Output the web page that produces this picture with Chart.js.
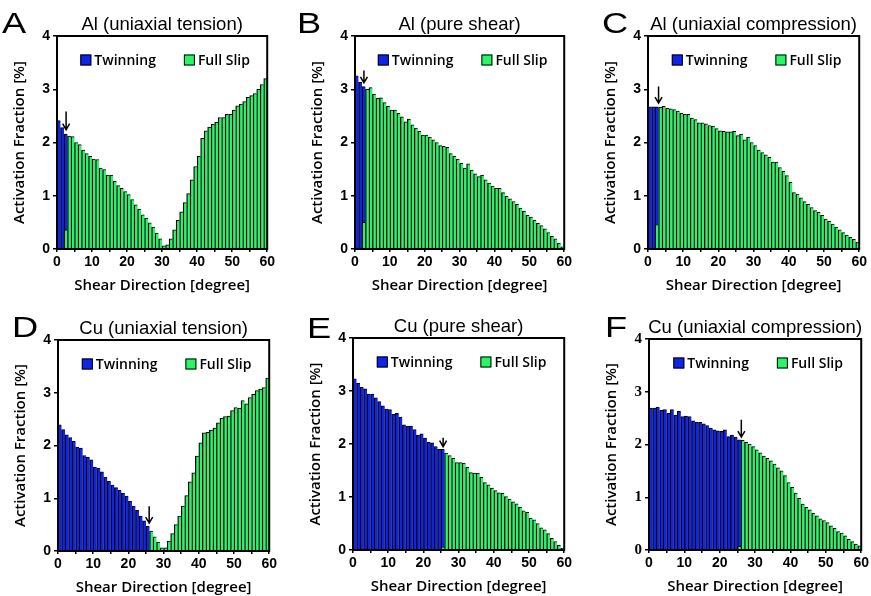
<!DOCTYPE html>
<html lang="en">
<head>
<meta charset="UTF-8" />
<title>Activation Fraction vs Shear Direction</title>
<style>
  body { margin: 0; background: #fff; }
  #wrap { position: relative; width: 871px; height: 596px; overflow: hidden; }
  canvas { position: absolute; }
</style>
</head>
<body>
<div id="wrap"></div>
<script src="https://cdn.jsdelivr.net/npm/chart.js"></script>
<script>
// 1-degree bins, 0..59
const shearBins = [0, 1, 2, 3, 4, 5, 6, 7, 8, 9, 10, 11, 12, 13, 14, 15, 16, 17, 18, 19,
  20, 21, 22, 23, 24, 25, 26, 27, 28, 29, 30, 31, 32, 33, 34, 35, 36, 37, 38, 39,
  40, 41, 42, 43, 44, 45, 46, 47, 48, 49, 50, 51, 52, 53, 54, 55, 56, 57, 58, 59];
const xTickMarks = [0, 5, 10, 15, 20, 25, 30, 35, 40, 45, 50, 55, 60];
const xTickLabels = [0, 10, 20, 30, 40, 50, 60];
const yTickLabels = [0, 1, 2, 3, 4];
const seriesNames = ['Twinning', 'Full Slip'];

// Al, uniaxial tension
const alTensionTwin = [2.41, 2.28, 2.16];
const alTensionSlipStart = 2;
const alTensionSlip = [0.36, 2.12, 2.11, 2.00, 1.96, 1.86, 1.79, 1.74, 1.69, 1.68,
  1.52, 1.49, 1.39, 1.39, 1.27, 1.19, 1.14, 1.08, 1.02, 0.93,
  0.83, 0.75, 0.64, 0.58, 0.49, 0.41, 0.30, 0.19, 0.06, 0.08,
  0.19, 0.36, 0.54, 0.70, 0.87, 1.04, 1.30, 1.55, 1.74, 2.08,
  2.22, 2.29, 2.34, 2.38, 2.47, 2.47, 2.53, 2.53, 2.61, 2.69,
  2.72, 2.77, 2.85, 2.88, 2.92, 3.00, 3.09, 3.20];
const alTensionArrow = [2.6, 2.58, 2.24];

// Al, pure shear
const alShearTwin = [3.25, 3.13, 3.05];
const alShearSlipStart = 2;
const alShearSlip = [0.50, 3.00, 3.03, 2.91, 2.83, 2.84, 2.75, 2.68, 2.61, 2.61,
  2.55, 2.48, 2.39, 2.44, 2.33, 2.27, 2.21, 2.14, 2.14, 2.10,
  2.05, 2.00, 1.94, 1.93, 1.91, 1.79, 1.74, 1.69, 1.61, 1.52,
  1.60, 1.48, 1.41, 1.36, 1.39, 1.30, 1.24, 1.18, 1.14, 1.14,
  1.06, 0.99, 0.94, 0.89, 0.84, 0.77, 0.71, 0.63, 0.60, 0.54,
  0.48, 0.44, 0.38, 0.31, 0.24, 0.19, 0.11, 0.04];
const alShearArrow = [2.56, 3.35, 3.12];

// Al, uniaxial compression
const alCompTwin = [2.67, 2.67, 2.67];
const alCompSlipStart = 2;
const alCompSlip = [0.46, 2.66, 2.68, 2.64, 2.63, 2.62, 2.59, 2.55, 2.53, 2.53,
  2.46, 2.43, 2.37, 2.37, 2.35, 2.32, 2.31, 2.26, 2.22, 2.21,
  2.20, 2.20, 2.21, 2.13, 2.16, 2.05, 2.10, 2.00, 1.94, 1.86,
  1.81, 1.77, 1.72, 1.63, 1.63, 1.53, 1.46, 1.38, 1.25, 1.06,
  1.03, 0.96, 0.89, 0.84, 0.78, 0.72, 0.69, 0.63, 0.56, 0.52,
  0.47, 0.41, 0.36, 0.31, 0.26, 0.22, 0.18, 0.13];
const alCompArrow = [3.0, 3.05, 2.74];

// Cu, uniaxial tension
const cuTensionTwin = [2.39, 2.30, 2.20, 2.15, 2.08, 1.97, 1.95, 1.81, 1.78, 1.73,
  1.59, 1.57, 1.50, 1.40, 1.32, 1.25, 1.20, 1.15, 1.10, 1.04,
  0.94, 0.85, 0.77, 0.66, 0.57, 0.47];
const cuTensionSlipStart = 26;
const cuTensionSlip = [0.38, 0.27, 0.17, 0.06, 0.06, 0.19, 0.33, 0.50, 0.66, 0.85,
  1.05, 1.31, 1.48, 1.80, 2.05, 2.24, 2.25, 2.29, 2.33, 2.43,
  2.52, 2.55, 2.56, 2.66, 2.72, 2.71, 2.85, 2.79, 2.91, 2.97,
  3.04, 3.07, 3.10, 3.28];
const cuTensionArrow = [25.9, 0.85, 0.53];

// Cu, pure shear
const cuShearTwin = [3.23, 3.15, 3.07, 3.04, 2.94, 2.94, 2.87, 2.80, 2.72, 2.66,
  2.65, 2.56, 2.58, 2.51, 2.36, 2.34, 2.34, 2.27, 2.17, 2.19,
  2.11, 2.03, 2.02, 1.95, 1.90, 1.90];
const cuShearSlipStart = 25;
const cuShearSlip = [0.06, 1.83, 1.78, 1.73, 1.65, 1.65, 1.64, 1.56, 1.46, 1.45,
  1.45, 1.37, 1.27, 1.23, 1.17, 1.12, 1.08, 1.07, 1.01, 0.96,
  0.91, 0.87, 0.81, 0.74, 0.71, 0.60, 0.57, 0.50, 0.42, 0.38,
  0.31, 0.22, 0.16, 0.09, 0.03];
const cuShearArrow = [25.6, 2.12, 1.95];

// Cu, uniaxial compression
const cuCompTwin = [2.69, 2.69, 2.71, 2.65, 2.66, 2.59, 2.66, 2.56, 2.63, 2.53,
  2.54, 2.53, 2.45, 2.42, 2.42, 2.39, 2.36, 2.31, 2.28, 2.26,
  2.25, 2.28, 2.15, 2.18, 2.14, 2.09];
const cuCompSlipStart = 25;
const cuCompSlip = [0.07, 2.08, 2.04, 2.01, 1.96, 1.90, 1.84, 1.78, 1.74, 1.69,
  1.63, 1.56, 1.50, 1.41, 1.28, 1.19, 1.08, 0.98, 0.87, 0.81,
  0.76, 0.70, 0.65, 0.59, 0.56, 0.52, 0.46, 0.41, 0.35, 0.32,
  0.27, 0.20, 0.16, 0.11, 0.08];
const cuCompArrow = [26.1, 2.47, 2.14];

const TWIN_COLOR = '#1024e6';
const SLIP_COLOR = '#2ef268';

// plot box of every panel on the page (left, top, width, height)
const panels = [
  { letter: 'A', title: 'Al (uniaxial tension)', twin: alTensionTwin, slip: alTensionSlip, slipStart: alTensionSlipStart, arrow: alTensionArrow, box: [57, 36, 212, 213], letterDx: -55, letterDy: -3 },
  { letter: 'B', title: 'Al (pure shear)', twin: alShearTwin, slip: alShearSlip, slipStart: alShearSlipStart, arrow: alShearArrow, box: [355, 36, 211, 213], letterDx: -58, letterDy: -3 },
  { letter: 'C', title: 'Al (uniaxial compression)', twin: alCompTwin, slip: alCompSlip, slipStart: alCompSlipStart, arrow: alCompArrow, box: [648, 36, 213, 213], letterDx: -46, letterDy: -3 },
  { letter: 'D', title: 'Cu (uniaxial tension)', twin: cuTensionTwin, slip: cuTensionSlip, slipStart: cuTensionSlipStart, arrow: cuTensionArrow, box: [58, 340, 213, 211], letterDx: -46, letterDy: -3 },
  { letter: 'E', title: 'Cu (pure shear)', twin: cuShearTwin, slip: cuShearSlip, slipStart: cuShearSlipStart, arrow: cuShearArrow, box: [353, 338, 213, 212], letterDx: -46, letterDy: 0 },
  { letter: 'F', title: 'Cu (uniaxial compression)', twin: cuCompTwin, slip: cuCompSlip, slipStart: cuCompSlipStart, arrow: cuCompArrow, box: [649, 339, 214, 211], letterDx: -44, letterDy: -2, serifY: true },
];

const AXIS_W = 57, TOP_PAD = 36, RIGHT_PAD = 8, XAXIS_H = 50;

// frame, arrow, in-plot legend, title and panel letter
const decor = {
  id: 'decor',
  afterDatasetsDraw(chart, args, o) {
    const { ctx, chartArea: a, scales } = chart;
    ctx.save();
    ctx.strokeStyle = '#000';
    ctx.lineWidth = 2;
    ctx.strokeRect(a.left, a.top, a.right - a.left, a.bottom - a.top);

    const ax = scales.xt.getPixelForValue(o.arrow[0]);
    const ay0 = scales.y.getPixelForValue(o.arrow[1]);
    const ay1 = scales.y.getPixelForValue(o.arrow[2]);
    ctx.lineWidth = 1.5;
    ctx.beginPath();
    ctx.moveTo(ax, ay0);
    ctx.lineTo(ax, ay1);
    ctx.moveTo(ax - 3.5, ay1 - 6);
    ctx.lineTo(ax, ay1);
    ctx.lineTo(ax + 3.5, ay1 - 6);
    ctx.stroke();

    // legend
    ctx.font = '600 14px "Open Sans"';
    ctx.textBaseline = 'middle';
    ctx.textAlign = 'left';
    const box = 11, gap = 3, spacing = 28;
    const items = chart.data.datasets.map(ds => ({ text: ds.label, color: ds.backgroundColor, w: ctx.measureText(ds.label).width }));
    let total = 0;
    items.forEach((it, i) => { total += box + gap + it.w + (i ? spacing : 0); });
    let x = a.left + (a.right - a.left - total) / 2 + 3;
    const ly = a.top + 24;
    items.forEach(it => {
      ctx.fillStyle = it.color;
      ctx.fillRect(x, ly - box / 2, box, box);
      ctx.lineWidth = 1;
      ctx.strokeStyle = '#000';
      ctx.strokeRect(x + 0.5, ly - box / 2 + 0.5, box - 1, box - 1);
      ctx.fillStyle = '#000';
      ctx.fillText(it.text, x + box + gap, ly + 1);
      x += box + gap + it.w + spacing;
    });
    ctx.restore();
  },
  afterDraw(chart, args, o) {
    const { ctx, chartArea: a } = chart;
    ctx.save();
    ctx.fillStyle = '#000';
    ctx.textBaseline = 'middle';
    ctx.textAlign = 'center';
    ctx.font = '18.5px "Liberation Sans"';
    ctx.fillText(o.title, (a.left + a.right) / 2, a.top - 11);

    ctx.textBaseline = 'alphabetic';
    ctx.textAlign = 'left';
    ctx.font = '29px "Liberation Sans"';
    ctx.translate(a.left + o.letterDx, a.top + o.letterDy);
    ctx.scale(1.25, 1);
    ctx.fillText(o.letter, 0, 0);
    ctx.restore();
  }
};

const wrap = document.getElementById('wrap');

panels.forEach(p => {
  const [L, T, W, H] = p.box;
  const canvas = document.createElement('canvas');
  canvas.width = W + AXIS_W + RIGHT_PAD;
  canvas.height = H + TOP_PAD + XAXIS_H;
  canvas.style.left = (L - AXIS_W) + 'px';
  canvas.style.top = (T - TOP_PAD) + 'px';
  wrap.appendChild(canvas);

  const slipData = p.slip.map((v, i) => ({ x: shearBins[p.slipStart + i], y: v }));
  const barBorder = { top: 1, left: 1.3, right: 0, bottom: 0 };

  new Chart(canvas.getContext('2d'), {
    type: 'bar',
    data: {
      labels: shearBins,
      datasets: [
        {
          label: seriesNames[0],
          data: p.twin,
          backgroundColor: TWIN_COLOR,
          borderColor: '#000',
          borderWidth: barBorder,
          order: 1,
        },
        {
          label: seriesNames[1],
          data: slipData,
          backgroundColor: SLIP_COLOR,
          borderColor: '#000',
          borderWidth: barBorder,
          order: 0,
        },
      ],
    },
    options: {
      responsive: false,
      animation: false,
      events: [],
      layout: { padding: { top: TOP_PAD, right: RIGHT_PAD, left: 0, bottom: 0 } },
      datasets: { bar: { grouped: false, barPercentage: 1, categoryPercentage: 1 } },
      plugins: {
        legend: { display: false },
        tooltip: { enabled: false },
        decor: { title: p.title, letter: p.letter, arrow: p.arrow, letterDx: p.letterDx, letterDy: p.letterDy },
      },
      scales: {
        x: { type: 'category', display: false, offset: true },
        xt: {
          type: 'linear',
          position: 'bottom',
          min: 0,
          max: 60,
          offset: false,
          afterBuildTicks: (axis) => { axis.ticks = xTickMarks.map(v => ({ value: v })); },
          afterFit: (axis) => { axis.height = XAXIS_H; },
          grid: { offset: false, drawOnChartArea: false, drawTicks: true, tickLength: 3, color: '#000', lineWidth: 1.5 },
          border: { display: false },
          ticks: {
            autoSkip: false,
            maxRotation: 0,
            padding: 2,
            color: '#000',
            font: { family: '"Liberation Sans", Arial', size: 14, weight: 'bold' },
            callback: (v) => (xTickLabels.includes(v) ? String(v) : ''),
          },
          title: {
            display: true,
            text: 'Shear Direction [degree]',
            color: '#000',
            font: { family: '"Open Sans"', size: 15, weight: '600' },
            padding: { top: 0, bottom: 4 },
          },
        },
        y: {
          min: 0,
          max: 4,
          afterBuildTicks: (axis) => { axis.ticks = yTickLabels.map(v => ({ value: v })); },
          afterFit: (axis) => { axis.width = AXIS_W; },
          grid: { drawOnChartArea: false, tickLength: 4, color: '#000', lineWidth: 1.5 },
          border: { display: false },
          ticks: {
            padding: 3,
            color: '#000',
            font: p.serifY
              ? { family: '"Liberation Serif"', size: 15, weight: 'bold' }
              : { family: '"Liberation Sans", Arial', size: 14, weight: 'bold' },
          },
          title: {
            display: true,
            text: 'Activation Fraction [%]',
            color: '#000',
            font: { family: '"Open Sans"', size: 15, weight: '600' },
            padding: { top: 11, bottom: 0 },
          },
        },
      },
    },
    plugins: [decor],
  });
});
</script>
</body>
</html>
